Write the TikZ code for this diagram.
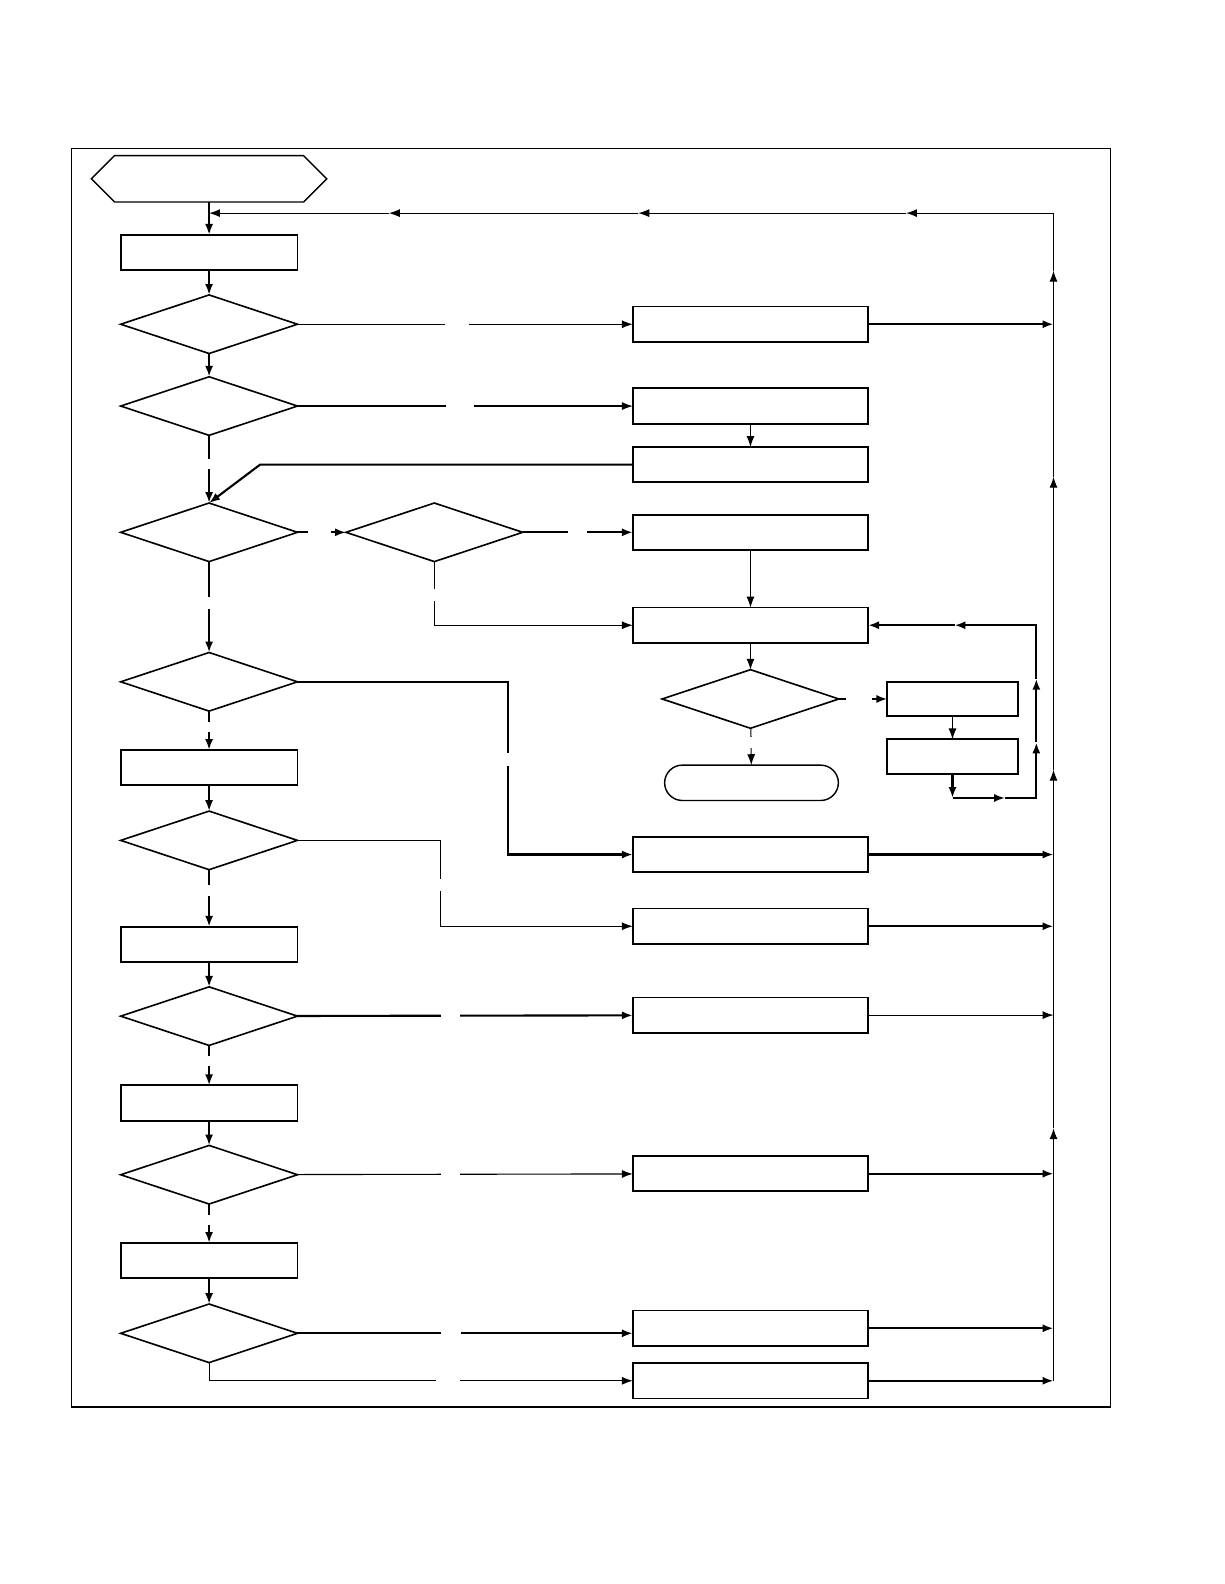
\documentclass[tikz,border=0pt]{standalone}
\usepackage{tikz}
\usetikzlibrary{arrows.meta}
\usetikzlibrary{shapes.geometric}
\usetikzlibrary{shapes.misc}
\usetikzlibrary{shapes.symbols}
\tikzset{box/.style = {draw, line width=0.9pt, minimum width=87.5pt, minimum height=17.5pt, inner sep=0, outer sep=0}}
\tikzset{wbox/.style = {box, minimum width=116.5pt}}
\tikzset{sbox/.style = {box, minimum width=64.5pt, minimum height=17pt}}
\tikzset{quest/.style = {diamond, draw, line width=0.8pt, minimum width=87.5pt, minimum height=29pt, inner sep=0, outer sep=0}}
\tikzset{gap/.style = {fill=white, inner sep=0, minimum size=#1}, gap/.default=11pt}
\tikzset{fine/.style = {line width=0.55pt}}
\tikzset{main/.style = {line width=1.05pt}}

\begin{document}
\begin{tikzpicture}[x=0.5pt, y=-0.5pt, >={Latex[length=5.4pt,width=4pt]}]
    \useasboundingbox (0,0) rectangle (1211.8,1568.2);
    \draw [fine] (71,147) rectangle (1099,1393);

    \node [signal, signal to=east and west, draw, line width=0.7pt, minimum width=116.5pt,
           minimum height=23pt, inner sep=0, outer sep=0] (start) at (207,177) {};
    \node [box] (init) at (207,250) {};

    \node [quest] (q1) at (207,321) {};
    \node [quest] (q2) at (207,402) {};
    \node [quest] (q3) at (207,527) {};
    \node [quest] (q4) at (430,527) {};
    \node [quest] (q6) at (207,675) {};
    \node [box] (box2) at (207,760) {};
    \node [quest] (q7) at (207,832) {};
    \node [box] (box3) at (207,935) {};
    \node [quest] (q8) at (207,1006) {};
    \node [box] (box4) at (207,1092) {};
    \node [quest] (q9) at (207,1163) {};
    \node [box] (box5) at (207,1248) {};
    \node [quest] (q10) at (207,1320) {};

    \node [wbox] (r1) at (743,321) {};
    \node [wbox] (r2) at (743,402) {};
    \node [wbox] (r3) at (743,460) {};
    \node [wbox] (r4) at (743,527) {};
    \node [wbox] (r5) at (743,619) {};
    \node [quest] (q5) at (743,692) {};
    \node [rounded rectangle, draw, line width=0.7pt, minimum width=86pt,
           minimum height=17.5pt, inner sep=0, outer sep=0] (stop) at (744,775) {};
    \node [sbox] (r6) at (943,692) {};
    \node [sbox] (r7) at (943,749) {};
    \node [wbox] (r8) at (743,846) {};
    \node [wbox] (r9) at (743,917) {};
    \node [wbox] (r10) at (743,1005) {};
    \node [wbox] (r11) at (743,1162) {};
    \node [wbox] (r12) at (743,1315) {};
    \node [wbox] (r13) at (743,1367) {};

    \coordinate (busT) at (1043,211);

    % main column
    \draw [main, ->] (start) -- (init);
    \draw [main, ->] (init) -- (q1);
    \draw [main, ->] (q1) -- (q2);
    \draw [main, ->] (q2) -- node [gap=5pt, pos=0.43] {} (q3);
    \draw [main, ->] (q3) -- node [gap=6pt, pos=0.455] {} (q6);
    \draw [main, ->] (q6) -- node [gap=5pt, pos=0.41] {} (box2);
    \draw [main, ->] (box2) -- (q7);
    \draw [main, ->] (q7) -- node [gap=5.5pt, pos=0.36] {} (box3);
    \draw [main, ->] (box3) -- (q8);
    \draw [main, ->] (q8) -- node [gap=5.3pt, pos=0.39] {} (box4);
    \draw [main, ->] (box4) -- (q9);
    \draw [main, ->] (q9) -- node [gap=5.2pt, pos=0.41] {} (box5);
    \draw [main, ->] (box5) -- (q10);

    % branches to the right
    \draw [fine, ->] (q1) -- node [gap=11.5pt, pos=0.476] {} (r1);
    \draw [fine, ->] (q2) -- node [gap=14pt, pos=0.485] {} (r2);
    \draw [fine, ->] (r2) -- (r3);
    \draw [main, ->] (r3.west) -- ++(-369,0) -- (q3.north);
    \draw [main, ->] (q3) -- node [gap=11.5pt, pos=0.46] {} (q4);
    \draw [main, ->] (q4) -- node [gap=9.5pt, pos=0.5] {} (r4);
    \draw [fine, ->] (q4.south) -- node [gap=6pt, pos=0.53] {} (q4.south |- r5) -- (r5.west);
    \draw [fine, ->] (r4) -- (r5);
    \draw [fine, ->] (r5) -- (q5);
    \draw [main, ->] (q5) -- node [gap=13pt, pos=0.42] {} (r6);
    \draw [fine, ->] (r6) -- (r7);
    \draw [fine, ->] (q5) -- node [gap=5.5pt, pos=0.38] {} (stop);

    % retry loop
    \draw [main, ->] (r7.south) -- (943,790);
    \draw [main, ->] (943,790) -- (995,790);
    \draw [main, ->] (995,790) -- (1026,790) -- (1026,735);
    \draw [main, ->] (1026,735) -- (1026,672);
    \draw [main, ->] (1026,672) -- (1026,619) -- (945,619);
    \draw [main, ->] (945,619) -- (r5.east);

    \draw [main, ->] (q6.east) -- ++(208,0) -- node [gap=6.5pt, pos=0.45] {} ++(0,171) -- (r8);
    \draw [fine, ->] (q7.east) -- ++(142,0) -- node [gap=6pt, pos=0.517] {} ++(0,85) -- (r9);
    \draw [main, ->] (q8) -- node [gap=9.5pt, pos=0.458] {} (r10);
    \draw [fine, ->] (q9) -- node [gap=9.5pt, pos=0.458] {} (r11);
    \draw [main, ->] (q10.east) -- node [gap=9.5pt, pos=0.458] {} (q10.east -| r12.west);
    \draw [fine, ->] (q10.south) |- node [gap=12pt, pos=0.782] {} (r13);

    % back to the top
    \draw [main, ->] (r1) -- (r1 -| busT);
    \draw [main, ->] (r8) -- (r8 -| busT);
    \draw [main, ->] (r9) -- (r9 -| busT);
    \draw [fine, ->] (r10) -- (r10 -| busT);
    \draw [main, ->] (r11) -- (r11 -| busT);
    \draw [main, ->] (r12) -- (r12 -| busT);
    \draw [main, ->] (r13) -- (r13 -| busT);

    \foreach \ya/\yb in {1367/1117, 1117/762, 762/472, 472/268}
      \draw [fine, ->] (1043,\ya) -- (1043,\yb);
    \draw [fine, ->] (1043,268) -- (busT) -- (897,211);
    \foreach \xa/\xb in {897/632, 632/385, 385/207}
      \draw [fine, ->] (\xa,211) -- (\xb,211);
\end{tikzpicture}
\end{document}
